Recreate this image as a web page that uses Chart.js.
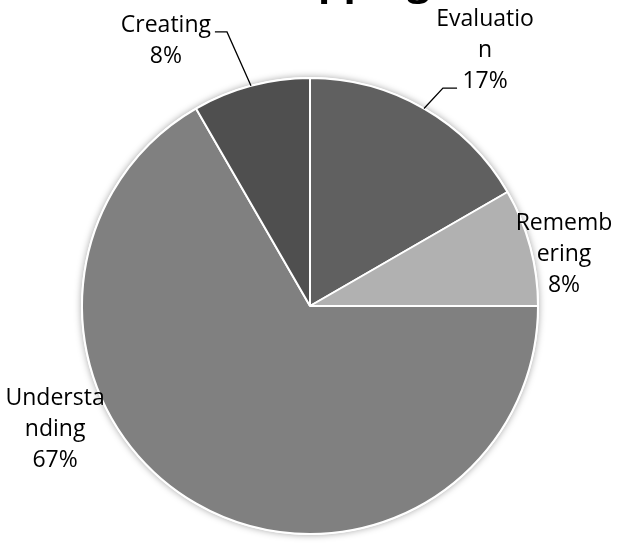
<!DOCTYPE html>
<html>
<head>
<meta charset="utf-8">
<script src="https://cdn.jsdelivr.net/npm/chart.js@4.4.0/dist/chart.umd.min.js"></script>
<style>
  html, body { margin: 0; padding: 0; background: #fff; }
  #wrap { width: 618px; height: 544px; position: relative; }
</style>
</head>
<body>
<div id="wrap"><canvas id="chart"></canvas></div>
<script>
// --- DATA ---
const categories = ['Evaluation', 'Remembering', 'Understanding', 'Creating'];
const counts = [2, 1, 8, 1];
// category names as they wrap inside the label boxes
const labelLines = [['Evaluatio', 'n'], ['Rememb', 'ering'], ['Understa', 'nding'], ['Creating']];
const sliceColors = ['#606060', '#b1b1b1', '#808080', '#4f4f4f'];
const titleText = 'Mapping';

const total = counts.reduce((a, b) => a + b, 0);
const percentText = counts.map(v => Math.round(v / total * 100) + '%');

// label block centres and leader lines, in units of the pie radius from its centre
const labelLayout = [
    { at: [0.768, -1.121], leader: [[0.583, -0.956], [0.645, -0.956]] },
    { at: [1.114, -0.224] },
    { at: [-1.118, 0.542] },
    { at: [-0.632, -1.162], leader: [[-0.364, -1.202], [-0.417, -1.202]] }
];

const FONT = '"Open Sans", "Noto Sans", sans-serif';
const LINE_H = 31;

// soft shadow behind the whole pie
const pieShadow = {
    id: 'pieShadow',
    beforeDatasetsDraw(chart) {
        const arc = chart.getDatasetMeta(0).data[0];
        if (!arc) return;
        const ctx = chart.ctx;
        ctx.save();
        ctx.shadowColor = 'rgba(0,0,0,0.35)';
        ctx.shadowBlur = 7;
        ctx.fillStyle = '#fff';
        ctx.beginPath();
        ctx.arc(arc.x, arc.y, arc.outerRadius + 1, 0, Math.PI * 2);
        ctx.fill();
        ctx.restore();
    }
};

// outside labels with leader lines, plus the title running off the top edge
const sliceLabels = {
    id: 'sliceLabels',
    afterDatasetsDraw(chart) {
        const ctx = chart.ctx;
        const meta = chart.getDatasetMeta(0);
        ctx.save();
        meta.data.forEach((arc, i) => {
            const r = arc.outerRadius;
            const cx = arc.x, cy = arc.y;
            const lay = labelLayout[i];
            if (lay.leader) {
                const mid = (arc.startAngle + arc.endAngle) / 2;
                ctx.strokeStyle = '#000';
                ctx.lineWidth = 1.3;
                ctx.beginPath();
                ctx.moveTo(cx + Math.cos(mid) * r, cy + Math.sin(mid) * r);
                lay.leader.forEach(p => ctx.lineTo(cx + p[0] * r, cy + p[1] * r));
                ctx.stroke();
            }
            const lines = labelLines[i].concat([percentText[i]]);
            const x = cx + lay.at[0] * r;
            const y0 = cy + lay.at[1] * r - (lines.length - 1) * LINE_H / 2;
            ctx.fillStyle = '#000';
            ctx.font = '23px ' + FONT;
            ctx.textAlign = 'center';
            ctx.textBaseline = 'middle';
            lines.forEach((t, k) => ctx.fillText(t, x, y0 + k * LINE_H));
        });

        ctx.font = 'bold 40px ' + FONT;
        ctx.textAlign = 'center';
        ctx.textBaseline = 'alphabetic';
        ctx.fillText(titleText, 343, -5);
        ctx.restore();
    }
};

new Chart(document.getElementById('chart').getContext('2d'), {
    type: 'pie',
    data: {
        labels: categories,
        datasets: [{
            data: counts,
            backgroundColor: sliceColors,
            borderColor: '#ffffff',
            borderWidth: 2
        }]
    },
    options: {
        responsive: true,
        maintainAspectRatio: false,
        animation: false,
        radius: 228,
        layout: { padding: { left: 2, right: 0, top: 68, bottom: 0 } },
        plugins: {
            legend: { display: false },
            tooltip: { enabled: false }
        }
    },
    plugins: [pieShadow, sliceLabels]
});
</script>
</body>
</html>
